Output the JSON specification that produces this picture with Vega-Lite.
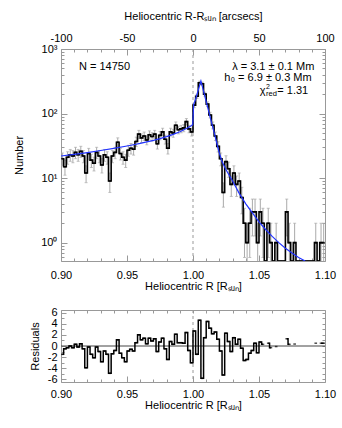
{
"$schema": "https://vega.github.io/schema/vega-lite/v6.json",
"padding": {"left": 13, "top": 9, "right": 10, "bottom": 5},
"config": {
  "font": "Liberation Sans",
  "view": {"stroke": "#999", "strokeWidth": 1},
  "axis": {"labelFont": "Liberation Sans", "titleFont": "Liberation Sans", "labelFontSize": 11, "titleFontSize": 11, "labelColor": "#000", "titleColor": "#000", "titleFontWeight": "normal", "tickColor": "#999", "domain": false, "grid": false, "labelFlush": false, "labelOverlap": false, "tickWidth": 1}
},
"datasets": {
  "hist": [
{"R":0.901,"n":20,"lo":15.5,"hi":24.5},
{"R":0.903,"n":15,"lo":11.1,"hi":18.9},
{"R":0.905,"n":21,"lo":16.4,"hi":25.6},
{"R":0.907,"n":23,"lo":18.2,"hi":27.8},
{"R":0.909,"n":22,"lo":17.3,"hi":26.7},
{"R":0.911,"n":25,"lo":20,"hi":30},
{"R":0.913,"n":23,"lo":18.2,"hi":27.8},
{"R":0.915,"n":26,"lo":20.9,"hi":31.1},
{"R":0.917,"n":22,"lo":17.3,"hi":26.7},
{"R":0.919,"n":12,"lo":8.5,"hi":15.5},
{"R":0.921,"n":24,"lo":19.1,"hi":28.9},
{"R":0.923,"n":19,"lo":14.6,"hi":23.4},
{"R":0.925,"n":17,"lo":12.9,"hi":21.1},
{"R":0.927,"n":25,"lo":20,"hi":30},
{"R":0.929,"n":22,"lo":17.3,"hi":26.7},
{"R":0.931,"n":16,"lo":12,"hi":20},
{"R":0.933,"n":23,"lo":18.2,"hi":27.8},
{"R":0.935,"n":21,"lo":16.4,"hi":25.6},
{"R":0.937,"n":9,"lo":6,"hi":12},
{"R":0.939,"n":22,"lo":17.3,"hi":26.7},
{"R":0.941,"n":25,"lo":20,"hi":30},
{"R":0.943,"n":36,"lo":30,"hi":42},
{"R":0.945,"n":24,"lo":19.1,"hi":28.9},
{"R":0.947,"n":21,"lo":16.4,"hi":25.6},
{"R":0.949,"n":19,"lo":14.6,"hi":23.4},
{"R":0.951,"n":27,"lo":21.8,"hi":32.2},
{"R":0.953,"n":29,"lo":23.6,"hi":34.4},
{"R":0.955,"n":28,"lo":22.7,"hi":33.3},
{"R":0.957,"n":37,"lo":30.9,"hi":43.1},
{"R":0.959,"n":48,"lo":41.1,"hi":54.9},
{"R":0.961,"n":42,"lo":35.5,"hi":48.5},
{"R":0.963,"n":45,"lo":38.3,"hi":51.7},
{"R":0.965,"n":39,"lo":32.8,"hi":45.2},
{"R":0.967,"n":47,"lo":40.1,"hi":53.9},
{"R":0.969,"n":44,"lo":37.4,"hi":50.6},
{"R":0.971,"n":48,"lo":41.1,"hi":54.9},
{"R":0.973,"n":34,"lo":28.2,"hi":39.8},
{"R":0.975,"n":46,"lo":39.2,"hi":52.8},
{"R":0.977,"n":52,"lo":44.8,"hi":59.2},
{"R":0.979,"n":40,"lo":33.7,"hi":46.3},
{"R":0.981,"n":29,"lo":23.6,"hi":34.4},
{"R":0.983,"n":52,"lo":44.8,"hi":59.2},
{"R":0.985,"n":50,"lo":42.9,"hi":57.1},
{"R":0.987,"n":66,"lo":57.9,"hi":74.1},
{"R":0.989,"n":56,"lo":48.5,"hi":63.5},
{"R":0.991,"n":58,"lo":50.4,"hi":65.6},
{"R":0.993,"n":60,"lo":52.3,"hi":67.7},
{"R":0.995,"n":75,"lo":66.3,"hi":83.7},
{"R":0.997,"n":58,"lo":50.4,"hi":65.6},
{"R":0.999,"n":52,"lo":44.8,"hi":59.2},
{"R":1.001,"n":135,"lo":123.4,"hi":146.6},
{"R":1.003,"n":185,"lo":171.4,"hi":198.6},
{"R":1.005,"n":300,"lo":282.7,"hi":317.3},
{"R":1.007,"n":290,"lo":273,"hi":307},
{"R":1.009,"n":200,"lo":185.9,"hi":214.1},
{"R":1.011,"n":140,"lo":128.2,"hi":151.8},
{"R":1.013,"n":95,"lo":85.3,"hi":104.7},
{"R":1.015,"n":66,"lo":57.9,"hi":74.1},
{"R":1.017,"n":45,"lo":38.3,"hi":51.7},
{"R":1.019,"n":31,"lo":25.4,"hi":36.6},
{"R":1.021,"n":20,"lo":15.5,"hi":24.5},
{"R":1.023,"n":6,"lo":3.55,"hi":8.45},
{"R":1.025,"n":18,"lo":13.8,"hi":22.2},
{"R":1.027,"n":14,"lo":10.3,"hi":17.7},
{"R":1.029,"n":8,"lo":5.2,"hi":10.8},
{"R":1.031,"n":12,"lo":8.5,"hi":15.5},
{"R":1.033,"n":8,"lo":5.2,"hi":10.8},
{"R":1.035,"n":9,"lo":6,"hi":12},
{"R":1.037,"n":5,"lo":2.8,"hi":7.2},
{"R":1.039,"n":2,"lo":0.59,"hi":3.41},
{"R":1.041,"n":1,"lo":0,"hi":2},
{"R":1.043,"n":2,"lo":0.59,"hi":3.41},
{"R":1.045,"n":3,"lo":1.27,"hi":4.73},
{"R":1.047,"n":3,"lo":1.27,"hi":4.73},
{"R":1.049,"n":1,"lo":0,"hi":2},
{"R":1.051,"n":3,"lo":1.27,"hi":4.73},
{"R":1.053,"n":2,"lo":0.59,"hi":3.41},
{"R":1.055,"n":0},
{"R":1.057,"n":2,"lo":0.59,"hi":3.41},
{"R":1.059,"n":1,"lo":0,"hi":2},
{"R":1.061,"n":0},
{"R":1.063,"n":1,"lo":0,"hi":2},
{"R":1.065,"n":0},
{"R":1.067,"n":0},
{"R":1.069,"n":0},
{"R":1.071,"n":3,"lo":1.27,"hi":4.73},
{"R":1.073,"n":1,"lo":0,"hi":2},
{"R":1.075,"n":0},
{"R":1.077,"n":1,"lo":0,"hi":2},
{"R":1.079,"n":0},
{"R":1.081,"n":0},
{"R":1.083,"n":0},
{"R":1.085,"n":0},
{"R":1.087,"n":0},
{"R":1.089,"n":0},
{"R":1.091,"n":0},
{"R":1.093,"n":1,"lo":0,"hi":2},
{"R":1.095,"n":0},
{"R":1.097,"n":1,"lo":0,"hi":2},
{"R":1.099,"n":1,"lo":0,"hi":2}
  ],
  "fit": [
{"R":0.900,"f":22.0},{"R":0.910,"f":23.3},{"R":0.920,"f":24.9},{"R":0.930,"f":26.8},{"R":0.940,"f":28.9},
{"R":0.950,"f":31.4},{"R":0.955,"f":32.9},{"R":0.960,"f":34.5},{"R":0.965,"f":36.4},{"R":0.970,"f":38.5},
{"R":0.975,"f":41.0},{"R":0.980,"f":44.0},{"R":0.985,"f":47.6},{"R":0.990,"f":52.2},{"R":0.995,"f":58.5},
{"R":0.999,"f":65.5},{"R":0.9998,"f":68},{"R":1.0005,"f":138},{"R":1.002,"f":168},{"R":1.004,"f":232},
{"R":1.006,"f":320},{"R":1.008,"f":221},{"R":1.010,"f":153},{"R":1.012,"f":106},{"R":1.014,"f":73},
{"R":1.016,"f":51},{"R":1.018,"f":35},{"R":1.020,"f":24.3},{"R":1.022,"f":18},{"R":1.025,"f":13.5},
{"R":1.030,"f":9.0},{"R":1.035,"f":5.8},{"R":1.040,"f":4.0},{"R":1.045,"f":2.9},{"R":1.050,"f":2.1},
{"R":1.055,"f":1.6},{"R":1.060,"f":1.25},{"R":1.065,"f":1.0},{"R":1.070,"f":0.82},{"R":1.075,"f":0.69},
{"R":1.080,"f":0.59},{"R":1.085,"f":0.51}
  ],
  "resid": [
{"R":0.901,"r":-1.5},{"R":0.903,"r":-0.5},{"R":0.905,"r":-0.3},{"R":0.907,"r":0.0},{"R":0.909,"r":-0.3},
{"R":0.911,"r":0.3},{"R":0.913,"r":-0.2},{"R":0.915,"r":0.4},{"R":0.917,"r":-0.5},{"R":0.919,"r":-3.9},
{"R":0.921,"r":-0.2},{"R":0.923,"r":-1.5},{"R":0.925,"r":-2.1},{"R":0.927,"r":-0.2},{"R":0.929,"r":-1.0},
{"R":0.931,"r":-2.8},{"R":0.933,"r":-0.9},{"R":0.935,"r":-1.5},{"R":0.937,"r":-4.9},{"R":0.939,"r":-1.4},
{"R":0.941,"r":-0.8},{"R":0.943,"r":1.1},{"R":0.945,"r":-1.3},{"R":0.947,"r":-2.1},{"R":0.949,"r":-2.8},
{"R":0.951,"r":-0.9},{"R":0.953,"r":-0.6},{"R":0.955,"r":-0.9},{"R":0.957,"r":0.6},{"R":0.959,"r":2.0},
{"R":0.961,"r":1.1},{"R":0.963,"r":1.4},{"R":0.965,"r":0.4},{"R":0.967,"r":1.4},{"R":0.969,"r":0.9},
{"R":0.971,"r":1.3},{"R":0.973,"r":-1.0},{"R":0.975,"r":0.7},{"R":0.977,"r":1.4},{"R":0.979,"r":-0.5},
{"R":0.981,"r":-2.4},{"R":0.983,"r":0.8},{"R":0.985,"r":0.3},{"R":0.987,"r":2.1},{"R":0.989,"r":0.6},
{"R":0.991,"r":0.6},{"R":0.993,"r":0.5},{"R":0.995,"r":2.4},{"R":0.997,"r":-0.8},{"R":0.999,"r":-3.0},
{"R":1.001,"r":2.7},{"R":1.003,"r":-1.5},{"R":1.005,"r":4.6},{"R":1.007,"r":-5.8},{"R":1.009,"r":1.5},
{"R":1.011,"r":4.4},{"R":1.013,"r":3.2},{"R":1.015,"r":2.2},{"R":1.017,"r":2.5},{"R":1.019,"r":1.2},
{"R":1.021,"r":-0.9},{"R":1.023,"r":-5.2},{"R":1.025,"r":2.3},{"R":1.027,"r":0.8},{"R":1.029,"r":-1.0},
{"R":1.031,"r":1.5},{"R":1.033,"r":0.3},{"R":1.035,"r":1.2},{"R":1.037,"r":-0.4},{"R":1.039,"r":-2.6},
{"R":1.041,"r":-2.4},{"R":1.043,"r":-1.3},{"R":1.045,"r":-0.8},{"R":1.047,"r":0.5},{"R":1.049,"r":-1.2},
{"R":1.051,"r":0.7},{"R":1.053,"r":0.3},{"R":1.055,"r":null},{"R":1.057,"r":0.5},{"R":1.059,"r":-0.3},
{"R":1.061,"r":null},{"R":1.063,"r":-0.1},{"R":1.065,"r":null},{"R":1.067,"r":null},{"R":1.069,"r":null},
{"R":1.071,"r":1.3},{"R":1.073,"r":0.3},{"R":1.075,"r":null},{"R":1.077,"r":0.35},{"R":1.079,"r":null},
{"R":1.081,"r":null},{"R":1.083,"r":null},{"R":1.085,"r":null},{"R":1.087,"r":null},{"R":1.089,"r":null},
{"R":1.091,"r":null},{"R":1.093,"r":0.5},{"R":1.095,"r":null},{"R":1.097,"r":0.5},{"R":1.099,"r":0.5}
  ]
},
"spacing": 14,
"vconcat": [
{
  "width": 264, "height": 212,
  "data": {"name": "hist"},
  "layer": [
    {"transform": [{"filter": "datum.n > 0"}],
     "mark": {"type": "rule", "color": "#aaa", "strokeWidth": 1, "clip": true},
     "encoding": {
       "x": {"field": "R", "type": "quantitative", "scale": {"domain": [0.9, 1.1], "nice": false, "zero": false},
             "axis": {"orient": "bottom", "values": [0.9, 0.95, 1, 1.05, 1.1], "format": ".2f", "tickSize": -6, "labelPadding": 14, "title": "Heliocentric R [Rₛᵤₙ]", "titlePadding": 0}},
       "y": {"field": "lo", "type": "quantitative", "scale": {"type": "log", "domain": [0.52, 1000], "nice": false, "clamp": true},
             "axis": {"orient": "left", "values": [1, 10, 100, 1000], "labelExpr": "datum.value < 5 ? '10⁰' : datum.value < 50 ? '10¹' : datum.value < 500 ? '10²' : '10³'", "tickSize": -6, "labelPadding": 10, "title": "Number", "titlePadding": 16}},
       "y2": {"field": "hi"}
     }},
    {"transform": [{"filter": "datum.n > 0 && datum.lo > 0.52"}],
     "mark": {"type": "tick", "orient": "horizontal", "size": 3, "thickness": 1, "color": "#aaa", "clip": true},
     "encoding": {
       "x": {"field": "R", "type": "quantitative", "axis": {"orient": "bottom", "values": [0.91,0.92,0.93,0.94,0.96,0.97,0.98,0.99,1.01,1.02,1.03,1.04,1.06,1.07,1.08,1.09], "tickSize": -3, "labels": false, "title": null}},
       "y": {"field": "lo", "type": "quantitative", "axis": {"orient": "left", "values": [0.6,0.7,0.8,0.9,2,3,4,5,6,7,8,9,20,30,40,50,60,70,80,90,200,300,400,500,600,700,800,900], "tickSize": -3, "labels": false, "title": null}}
     }},
    {"transform": [{"filter": "datum.n > 0"}],
     "mark": {"type": "tick", "orient": "horizontal", "size": 3, "thickness": 1, "color": "#aaa", "clip": true},
     "encoding": {
       "x": {"field": "R", "type": "quantitative", "axis": {"orient": "top", "values": [0.9, 0.95, 1, 1.05, 1.1], "labelExpr": "'' + round((datum.value - 1) * 1000)", "tickSize": -6, "labelPadding": 12, "title": "Heliocentric R-Rₛᵤₙ [arcsecs]", "titlePadding": 11}},
       "y": {"field": "hi", "type": "quantitative", "axis": {"orient": "right", "values": [1, 10, 100, 1000], "tickSize": -6, "labels": false, "title": null}}
     }},
    {"data": {"values": [{}]},
     "mark": {"type": "rule", "color": "#999", "strokeWidth": 1, "strokeDash": [3, 3]},
     "encoding": {"x": {"datum": 1, "type": "quantitative", "axis": null}}},
    {"mark": {"type": "line", "interpolate": "step", "color": "#000", "strokeWidth": 1.6, "clip": true},
     "encoding": {
       "x": {"field": "R", "type": "quantitative", "axis": {"orient": "top", "values": [0.91,0.92,0.93,0.94,0.96,0.97,0.98,0.99,1.01,1.02,1.03,1.04,1.06,1.07,1.08,1.09], "tickSize": -3, "labels": false, "title": null}},
       "y": {"field": "n", "type": "quantitative", "axis": {"orient": "right", "values": [0.6,0.7,0.8,0.9,2,3,4,5,6,7,8,9,20,30,40,50,60,70,80,90,200,300,400,500,600,700,800,900], "tickSize": -3, "labels": false, "title": null}}
     }},
    {"mark": {"type": "tick", "orient": "horizontal", "size": 2.64, "thickness": 1.6, "color": "#000", "clip": true},
     "encoding": {
       "x": {"field": "R", "type": "quantitative", "axis": null},
       "y": {"field": "n", "type": "quantitative", "axis": null}
     }},
    {"data": {"name": "fit"},
     "mark": {"type": "line", "color": "#2233ff", "strokeWidth": 1.2, "clip": true},
     "encoding": {
       "x": {"field": "R", "type": "quantitative", "axis": null},
       "y": {"field": "f", "type": "quantitative", "axis": null}
     }},
    {"data": {"values": [{}]},
     "mark": {"type": "text", "align": "left", "baseline": "middle", "fontSize": 11, "font": "Liberation Sans"},
     "encoding": {"x": {"datum": 0.9136, "type": "quantitative", "axis": null}, "y": {"datum": 535, "type": "quantitative", "axis": null}, "text": {"value": "N = 14750"}}},
    {"data": {"values": [{}]},
     "mark": {"type": "text", "align": "right", "baseline": "middle", "fontSize": 11, "font": "Liberation Sans"},
     "encoding": {"x": {"datum": 1.0919, "type": "quantitative", "axis": null}, "y": {"datum": 535, "type": "quantitative", "axis": null}, "text": {"value": "λ = 3.1 ± 0.1 Mm"}}},
    {"data": {"values": [{}]},
     "mark": {"type": "text", "align": "right", "baseline": "middle", "fontSize": 11, "font": "Liberation Sans"},
     "encoding": {"x": {"datum": 1.0899, "type": "quantitative", "axis": null}, "y": {"datum": 352, "type": "quantitative", "axis": null}, "text": {"value": "h₀ = 6.9 ± 0.3 Mm"}}},
    {"data": {"values": [{}]},
     "mark": {"type": "text", "align": "right", "baseline": "middle", "fontSize": 11, "font": "Liberation Sans"},
     "encoding": {"x": {"datum": 1.0873, "type": "quantitative", "axis": null}, "y": {"datum": 222, "type": "quantitative", "axis": null}, "text": {"value": "= 1.31"}}},
    {"data": {"values": [{}]},
     "mark": {"type": "text", "align": "right", "baseline": "middle", "fontSize": 11, "font": "Liberation Sans"},
     "encoding": {"x": {"datum": 1.0550, "type": "quantitative", "axis": null}, "y": {"datum": 222, "type": "quantitative", "axis": null}, "text": {"value": "χ"}}},
    {"data": {"values": [{}]},
     "mark": {"type": "text", "align": "left", "baseline": "middle", "fontSize": 7.5, "font": "Liberation Sans"},
     "encoding": {"x": {"datum": 1.0553, "type": "quantitative", "axis": null}, "y": {"datum": 200, "type": "quantitative", "axis": null}, "text": {"value": "red"}}},
    {"data": {"values": [{}]},
     "mark": {"type": "text", "align": "left", "baseline": "middle", "fontSize": 7, "font": "Liberation Sans"},
     "encoding": {"x": {"datum": 1.0553, "type": "quantitative", "axis": null}, "y": {"datum": 258, "type": "quantitative", "axis": null}, "text": {"value": "2"}}}
  ],
  "resolve": {"axis": {"x": "independent", "y": "independent"}}
},
{
  "width": 264, "height": 72,
  "data": {"name": "resid"},
  "layer": [
    {"data": {"values": [{}]},
     "mark": {"type": "rule", "color": "#444", "strokeWidth": 1},
     "encoding": {"y": {"datum": 0, "type": "quantitative", "scale": {"domain": [-6.45, 6.45], "nice": false, "zero": false},
                        "axis": {"orient": "right", "values": [-6,-5,-4,-3,-2,-1,0,1,2,3,4,5,6], "tickSize": -3, "labels": false, "title": null}}}},
    {"data": {"values": [{}]},
     "mark": {"type": "rule", "color": "#999", "strokeWidth": 1, "strokeDash": [3, 3]},
     "encoding": {"x": {"datum": 1, "type": "quantitative", "scale": {"domain": [0.9, 1.1], "nice": false, "zero": false},
                        "axis": {"orient": "top", "values": [0.9,0.91,0.92,0.93,0.94,0.95,0.96,0.97,0.98,0.99,1,1.01,1.02,1.03,1.04,1.05,1.06,1.07,1.08,1.09,1.1], "tickSize": -3, "labels": false, "title": null}}}},
    {"mark": {"type": "line", "interpolate": "step", "color": "#000", "strokeWidth": 1.5, "clip": true, "invalid": "break-paths-filter-domains"},
     "encoding": {
       "x": {"field": "R", "type": "quantitative", "axis": {"orient": "bottom", "values": [0.9, 0.95, 1, 1.05, 1.1], "format": ".2f", "tickSize": -6, "labelPadding": 12, "title": "Heliocentric R [Rₛᵤₙ]", "titlePadding": 0}},
       "y": {"field": "r", "type": "quantitative", "axis": {"orient": "left", "values": [-6, -4, -2, 0, 2, 4, 6], "labelExpr": "'' + datum.value", "tickSize": -5, "labelPadding": 9, "title": "Residuals", "titlePadding": 6.5}}
     }},
    {"transform": [{"filter": "isValid(datum.r)"}],
     "mark": {"type": "tick", "orient": "horizontal", "size": 2.64, "thickness": 1.5, "color": "#000", "clip": true},
     "encoding": {
       "x": {"field": "R", "type": "quantitative", "axis": {"orient": "bottom", "values": [0.91,0.92,0.93,0.94,0.96,0.97,0.98,0.99,1.01,1.02,1.03,1.04,1.06,1.07,1.08,1.09], "tickSize": -3, "labels": false, "title": null}},
       "y": {"field": "r", "type": "quantitative", "axis": {"orient": "left", "values": [-5, -3, -1, 1, 3, 5], "tickSize": -3, "labels": false, "title": null}}
     }}
  ],
  "resolve": {"axis": {"x": "independent", "y": "independent"}}
}
]
}
